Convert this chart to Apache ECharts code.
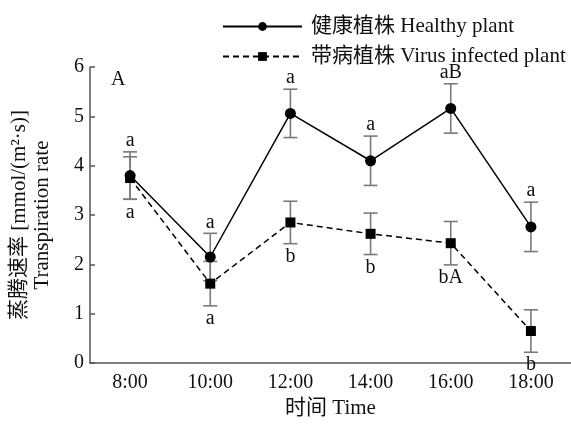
<!DOCTYPE html>
<html><head><meta charset="utf-8">
<script src="https://cdn.jsdelivr.net/npm/echarts@6/dist/echarts.min.js"></script>
<style>html,body{margin:0;padding:0;background:#fff}#c{width:571px;height:424px}</style>
</head><body><div id="c"></div>
<script>
const categories = ['8:00','10:00','12:00','14:00','16:00','18:00'];
const healthy = [3.80, 2.15, 5.06, 4.10, 5.16, 2.76];
const healthyErr = [0.48, 0.48, 0.49, 0.50, 0.50, 0.50];
const healthyLetters = ['a','a','a','a','aB','a'];
const virus = [3.75, 1.61, 2.85, 2.62, 2.43, 0.65];
const virusErr = [0.43, 0.45, 0.43, 0.42, 0.44, 0.43];
const virusLetters = ['a','a','b','b','bA','b'];
const yTicks = [0, 1, 2, 3, 4, 5, 6];

const FONT = "'Liberation Serif', 'Noto Sans CJK SC', serif";
const errData = (vals, errs, letters) => vals.map((v, i) => [i, v - errs[i], v + errs[i], letters[i]]);

function makeRender(above) {
  return function (params, api) {
    const x = api.value(0);
    const lo = api.coord([x, api.value(1)]);
    const hi = api.coord([x, api.value(2)]);
    const w = 7;
    const st = { stroke: '#7a7a7a', lineWidth: 1.6 };
    const letter = api.value(3);
    return {
      type: 'group',
      children: [
        { type: 'line', shape: { x1: lo[0], y1: lo[1], x2: hi[0], y2: hi[1] }, style: st },
        { type: 'line', shape: { x1: lo[0] - w, y1: lo[1], x2: lo[0] + w, y2: lo[1] }, style: st },
        { type: 'line', shape: { x1: hi[0] - w, y1: hi[1], x2: hi[0] + w, y2: hi[1] }, style: st },
        { type: 'text', style: {
            text: letter, x: hi[0], y: above ? hi[1] - 1 : lo[1] + 3,
            textAlign: 'center', textVerticalAlign: above ? 'bottom' : 'top',
            fontFamily: FONT, fontSize: 20, fill: '#111' } }
      ]
    };
  };
}

const chart = echarts.init(document.getElementById('c'), null, { renderer: 'canvas' });
chart.setOption({
  animation: false,
  backgroundColor: '#fff',
  textStyle: { fontFamily: FONT },
  grid: { left: 90, right: 0, top: 67, bottom: 57 },
  legend: {
    orient: 'vertical', left: 217, top: 10, itemGap: 7,
    itemWidth: 79, itemHeight: 11,
    textStyle: { fontFamily: FONT, fontSize: 21, lineHeight: 23, color: '#111', padding: [0, 0, 0, 4] },
    data: ['健康植株 Healthy plant', '带病植株 Virus infected plant']
  },
  graphic: [{ type: 'text', left: 111, top: 70, style: { text: 'A', fontFamily: FONT, fontSize: 20, fill: '#111' } }],
  xAxis: {
    type: 'category', data: categories, boundaryGap: true,
    name: '时间 Time', nameLocation: 'middle', nameGap: 33,
    nameTextStyle: { fontFamily: FONT, fontSize: 21, color: '#111' },
    axisLine: { lineStyle: { color: '#555', width: 1.5 } },
    axisTick: { inside: true, alignWithLabel: true, length: 5, lineStyle: { color: '#555', width: 1.5 } },
    axisLabel: { fontFamily: FONT, fontSize: 20, color: '#111', margin: 10 },
    splitLine: { show: false }
  },
  yAxis: {
    type: 'value', min: 0, max: 6, interval: 1,
    name: '蒸腾速率 [mmol/(m²·s)]\nTranspiration rate', nameLocation: 'middle', nameRotate: 90, nameGap: 36,
    nameTextStyle: { fontFamily: FONT, fontSize: 21, color: '#111', lineHeight: 23 },
    axisLine: { show: true, lineStyle: { color: '#555', width: 1.5 } },
    axisTick: { show: true, inside: true, length: 5, lineStyle: { color: '#555', width: 1.5 } },
    axisLabel: { fontFamily: FONT, fontSize: 20, color: '#111', margin: 6,
      formatter: v => yTicks.includes(v) ? String(v) : '' },
    splitLine: { show: false }
  },
  series: [
    { type: 'custom', name: 'errH', renderItem: makeRender(true), data: errData(healthy, healthyErr, healthyLetters), z: 1, encode: { x: 0, y: [1, 2] } },
    { type: 'custom', name: 'errV', renderItem: makeRender(false), data: errData(virus, virusErr, virusLetters), z: 1, encode: { x: 0, y: [1, 2] } },
    { type: 'line', name: '健康植株 Healthy plant', data: healthy, symbol: 'circle', symbolSize: 11,
      itemStyle: { color: '#000' }, lineStyle: { color: '#000', width: 1.5 }, z: 3 },
    { type: 'line', name: '带病植株 Virus infected plant', data: virus, symbol: 'rect', symbolSize: 10,
      itemStyle: { color: '#000' }, lineStyle: { color: '#000', width: 1.5, type: [6, 4] }, z: 3 }
  ]
});
</script></body></html>
